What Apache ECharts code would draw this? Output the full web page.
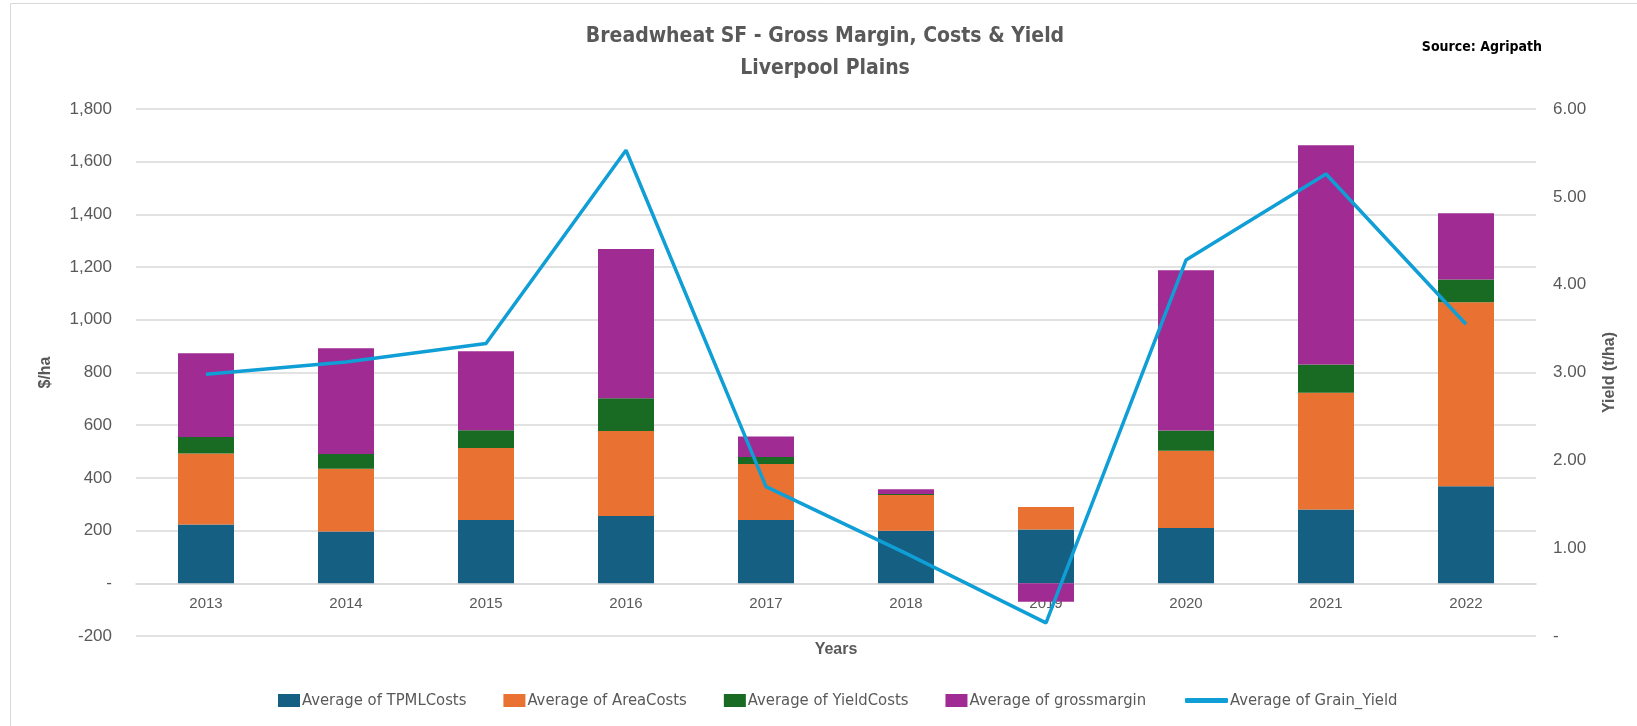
<!DOCTYPE html>
<html>
<head>
<meta charset="utf-8">
<script src="https://cdn.jsdelivr.net/npm/echarts@6/dist/echarts.min.js"></script>
<style>
html,body{margin:0;padding:0;background:#fff;}
#chart{width:1637px;height:726px;}
</style>
</head>
<body>
<div id="chart"></div>
<script>
const years = ['2013','2014','2015','2016','2017','2018','2019','2020','2021','2022'];
const tpmlCosts = [223, 197, 240, 255, 240, 199, 204, 210, 280, 368];
const areaCosts = [270, 238, 273, 323, 213, 136, 86, 293, 443, 699];
const yieldCosts = [62, 56, 68, 124, 26, 4, 0, 77, 107, 86];
const grossMargin = [318, 401, 300, 567, 78, 18, -70, 608, 832, 251];
const grainYield = [2.98, 3.12, 3.33, 5.53, 1.70, 0.94, 0.15, 4.28, 5.26, 3.55];

const narrow = "'DejaVu Sans Condensed', 'Liberation Sans Narrow', 'Liberation Sans', sans-serif";
const sans = "'Liberation Sans', Arial, sans-serif";
const gray = '#595959';

const chart = echarts.init(document.getElementById('chart'));
const barSeries = (name, data, color) => ({
  name, type: 'bar', stack: 'total', data, barWidth: 56,
  itemStyle: { color }, yAxisIndex: 0
});
chart.setOption({
  animation: false,
  graphic: [{
    type: 'rect', shape: { x: 10.5, y: 3.5, width: 1640, height: 740 },
    style: { fill: 'none', stroke: '#d9d9d9', lineWidth: 1 }, silent: true, z: -10
  }],
  title: [{
    text: 'Breadwheat SF - Gross Margin, Costs & Yield\nLiverpool Plains',
    left: 820, top: 16, textAlign: 'center',
    textStyle: { fontFamily: narrow, fontSize: 21, fontWeight: 'bold', color: gray, lineHeight: 32 }
  }, {
    text: 'Source: Agripath', right: 90, top: 35,
    textStyle: { fontFamily: narrow, fontSize: 14, fontWeight: 'bold', color: '#000' }
  }],
  legend: [{
    data: ['Average of TPMLCosts', 'Average of AreaCosts', 'Average of YieldCosts', 'Average of grossmargin'],
    left: 273, top: 687, icon: 'rect', itemWidth: 22, itemHeight: 13, itemGap: 37,
    textStyle: { fontFamily: narrow, fontSize: 16.5, color: gray, padding: [0, 0, 0, -3] }
  }, {
    data: ['Average of Grain_Yield'],
    left: 1180, top: 687, icon: 'roundRect', itemWidth: 43, itemHeight: 5,
    textStyle: { fontFamily: narrow, fontSize: 16.5, color: gray, padding: [0, 0, 0, -3] }
  }],
  grid: { left: 136, right: 101, top: 109, bottom: 90 },
  xAxis: {
    type: 'category', data: years,
    name: 'Years', nameLocation: 'middle', nameGap: 6,
    nameTextStyle: { fontFamily: sans, fontSize: 16, fontWeight: 'bold', color: gray },
    axisLine: { show: true, onZero: true, lineStyle: { color: '#d9d9d9', width: 1.5 } },
    axisTick: { show: false },
    axisLabel: { fontFamily: sans, fontSize: 15, color: gray, margin: -40 }
  },
  yAxis: [{
    type: 'value', min: -200, max: 1800, interval: 200,
    name: '$/ha', nameLocation: 'middle', nameGap: 82, nameRotate: 90,
    nameTextStyle: { fontFamily: sans, fontSize: 16, fontWeight: 'bold', color: gray },
    axisLabel: {
      fontFamily: sans, fontSize: 17, color: gray, margin: 24,
      formatter: v => v === 0 ? '-' : v.toLocaleString('en-US')
    },
    axisLine: { show: false }, axisTick: { show: false },
    splitLine: { lineStyle: { color: '#d9d9d9', width: 1.5 } }
  }, {
    type: 'value', min: 0, max: 6, interval: 1, position: 'right',
    name: 'Yield (t/ha)', nameLocation: 'middle', nameGap: 66, nameRotate: 90,
    nameTextStyle: { fontFamily: sans, fontSize: 16, fontWeight: 'bold', color: gray },
    axisLabel: {
      fontFamily: sans, fontSize: 17, color: gray, margin: 17,
      formatter: v => v === 0 ? '-' : v.toFixed(2)
    },
    axisLine: { show: false }, axisTick: { show: false }, splitLine: { show: false }
  }],
  series: [
    barSeries('Average of TPMLCosts', tpmlCosts, '#156082'),
    barSeries('Average of AreaCosts', areaCosts, '#E97132'),
    barSeries('Average of YieldCosts', yieldCosts, '#196B24'),
    barSeries('Average of grossmargin', grossMargin, '#A02B93'),
    {
      name: 'Average of Grain_Yield', type: 'line', yAxisIndex: 1, data: grainYield,
      symbol: 'none', lineStyle: { color: '#0F9ED5', width: 3.5 }, itemStyle: { color: '#0F9ED5' }, z: 5
    }
  ]
});
</script>
</body>
</html>
